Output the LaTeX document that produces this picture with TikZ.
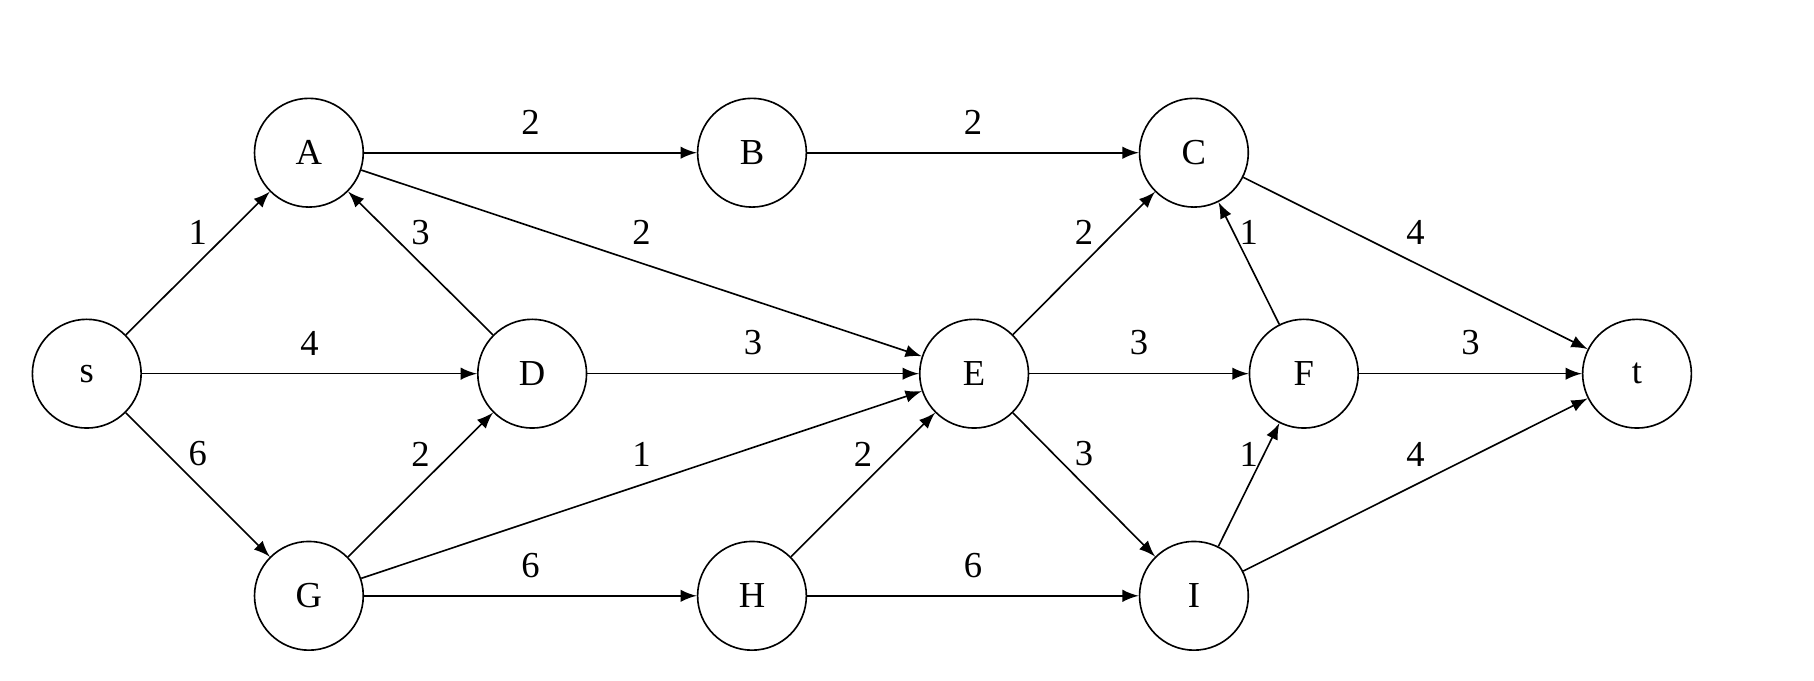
\documentclass[tikz,border=0pt]{standalone}
\usepackage{fontspec}
\setmainfont{Liberation Serif}
\usetikzlibrary{arrows}

\begin{document}
\begin{tikzpicture}[
    vertex/.style={circle,draw,minimum size=0.94cm,inner sep=0pt,font=\small},
    edge/.style={thin,-latex},
    weight/.style={midway,above=1pt,font=\small}]
    \useasboundingbox (0,0) rectangle (15.68,5.88);
    \node [vertex] (s) at (0.75,2.65) {s};
    \node [vertex] (A) at (2.67,4.56) {A};
    \node [vertex] (B) at (6.50,4.56) {B};
    \node [vertex] (C) at (10.32,4.56) {C};
    \node [vertex] (D) at (4.60,2.65) {D};
    \node [vertex] (E) at (8.42,2.65) {E};
    \node [vertex] (F) at (11.27,2.65) {F};
    \node [vertex] (t) at (14.15,2.65) {t};
    \node [vertex] (G) at (2.67,0.73) {G};
    \node [vertex] (H) at (6.50,0.73) {H};
    \node [vertex] (I) at (10.32,0.73) {I};
      \draw [edge] (s) -- (A) node [weight] {1};
      \draw [edge] (s) -- (D) node [weight] {4};
      \draw [edge] (s) -- (G) node [weight] {6};
      \draw [edge] (A) -- (B) node [weight] {2};
      \draw [edge] (A) -- (E) node [weight] {2};
      \draw [edge] (D) -- (A) node [weight] {3};
      \draw [edge] (D) -- (E) node [weight] {3};
      \draw [edge] (G) -- (D) node [weight] {2};
      \draw [edge] (G) -- (E) node [weight] {1};
      \draw [edge] (G) -- (H) node [weight] {6};
      \draw [edge] (B) -- (C) node [weight] {2};
      \draw [edge] (H) -- (E) node [weight] {2};
      \draw [edge] (H) -- (I) node [weight] {6};
      \draw [edge] (E) -- (C) node [weight] {2};
      \draw [edge] (E) -- (F) node [weight] {3};
      \draw [edge] (E) -- (I) node [weight] {3};
      \draw [edge] (F) -- (C) node [weight] {1};
      \draw [edge] (I) -- (F) node [weight] {1};
      \draw [edge] (C) -- (t) node [weight] {4};
      \draw [edge] (F) -- (t) node [weight] {3};
      \draw [edge] (I) -- (t) node [weight] {4};
  \end{tikzpicture}
\end{document}
